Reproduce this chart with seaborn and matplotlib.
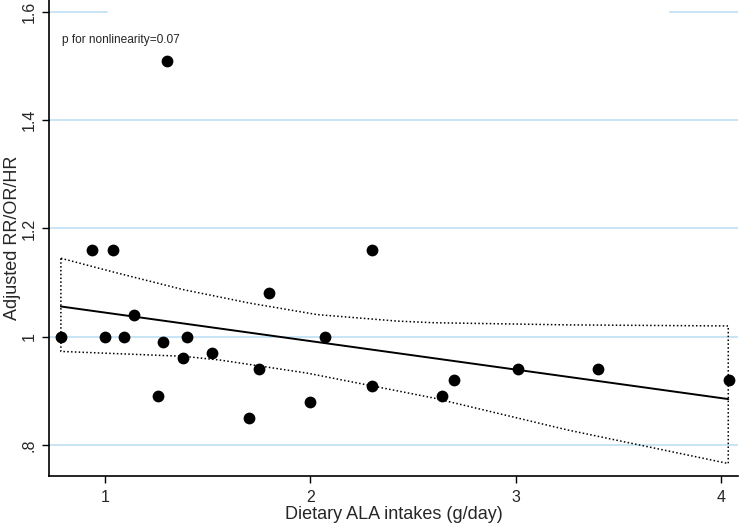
import matplotlib
matplotlib.use('Agg')
import matplotlib.pyplot as plt
import seaborn as sns
import pandas as pd

# study points
ala = [0.785, 0.935, 1.037, 1.00, 1.09, 1.141, 1.259, 1.283, 1.382, 1.398, 1.52,
       1.75, 1.70, 1.80, 2.00, 2.07, 2.30, 2.30, 1.30, 2.64, 2.70, 3.01, 3.40, 4.04]
rr = [1.00, 1.16, 1.16, 1.00, 1.00, 1.04, 0.89, 0.99, 0.96, 1.00, 0.97,
      0.94, 0.85, 1.08, 0.88, 1.00, 1.16, 0.91, 1.51, 0.89, 0.92, 0.94, 0.94, 0.92]

# fitted line and confidence band
fit_x = [0.785, 4.035]
fit_y = [1.056, 0.885]
hi_x = [0.785, 1.057, 1.382, 1.707, 2.033, 2.423, 2.60, 3.252, 4.035]
hi_y = [1.145, 1.118, 1.087, 1.062, 1.041, 1.029, 1.026, 1.022, 1.020]
lo_x = [0.785, 1.382, 1.561, 1.984, 2.60, 3.252, 4.035]
lo_y = [0.973, 0.964, 0.957, 0.933, 0.887, 0.828, 0.766]

ytick_vals = [0.8, 1.0, 1.2, 1.4, 1.6]
ytick_labels = ['.8', '1', '1.2', '1.4', '1.6']
xtick_vals = [1, 2, 3, 4]

sns.set_style('white')
plt.rcParams['font.family'] = ['Liberation Sans', 'DejaVu Sans']

fig = plt.figure(figsize=(7.41, 5.26), dpi=100)
ax = fig.add_axes([0.0661, 0.0951, 0.930, 0.905])

grid_col = '#c8e4f5'
for v in ytick_vals[:-1]:
    ax.axhline(v, color=grid_col, lw=1.4, zorder=0)
ax.axhline(1.6, xmin=0, xmax=0.084, color=grid_col, lw=1.4, zorder=0)
ax.axhline(1.6, xmin=0.901, xmax=1, color=grid_col, lw=1.4, zorder=0)

# confidence band as closed dotted outline
poly_x = hi_x + lo_x[::-1] + [hi_x[0]]
poly_y = hi_y + lo_y[::-1] + [hi_y[0]]
band = pd.DataFrame({'x': poly_x, 'y': poly_y})
sns.lineplot(data=band, x='x', y='y', sort=False, estimator=None,
             color='black', lw=1.1, ls=(0, (1, 1.5)), ax=ax)

fit = pd.DataFrame({'x': fit_x, 'y': fit_y})
sns.lineplot(data=fit, x='x', y='y', color='black', lw=1.4, ax=ax)

pts = pd.DataFrame({'ala': ala, 'rr': rr})
sns.scatterplot(data=pts, x='ala', y='rr', color='black', s=72,
                edgecolor='black', linewidth=0, ax=ax, zorder=5)

ax.text(0.79, 1.548, 'p for nonlinearity=0.07', fontsize=8.6, va='center')

ax.set_xlim(0.727, 4.083)
ax.set_ylim(0.743, 1.622)
ax.set_xticks(xtick_vals)
ax.set_xticklabels([str(v) for v in xtick_vals], fontsize=11.5)
ax.set_yticks(ytick_vals)
ax.set_yticklabels(ytick_labels, fontsize=11.5, rotation=90, va='center')
ax.tick_params(axis='both', direction='out', length=5, width=1, color='black',
               bottom=True, left=True)
ax.tick_params(axis='x', pad=5)
ax.tick_params(axis='y', pad=4)
ax.set_xlabel('Dietary ALA intakes (g/day)', fontsize=13, labelpad=1)
ax.set_ylabel('Adjusted RR/OR/HR', fontsize=13, labelpad=0)

for s in ['top', 'right']:
    ax.spines[s].set_visible(False)
for s in ['left', 'bottom']:
    ax.spines[s].set_color('black')
    ax.spines[s].set_linewidth(1.2)

fig.savefig('out.png', dpi=100)
